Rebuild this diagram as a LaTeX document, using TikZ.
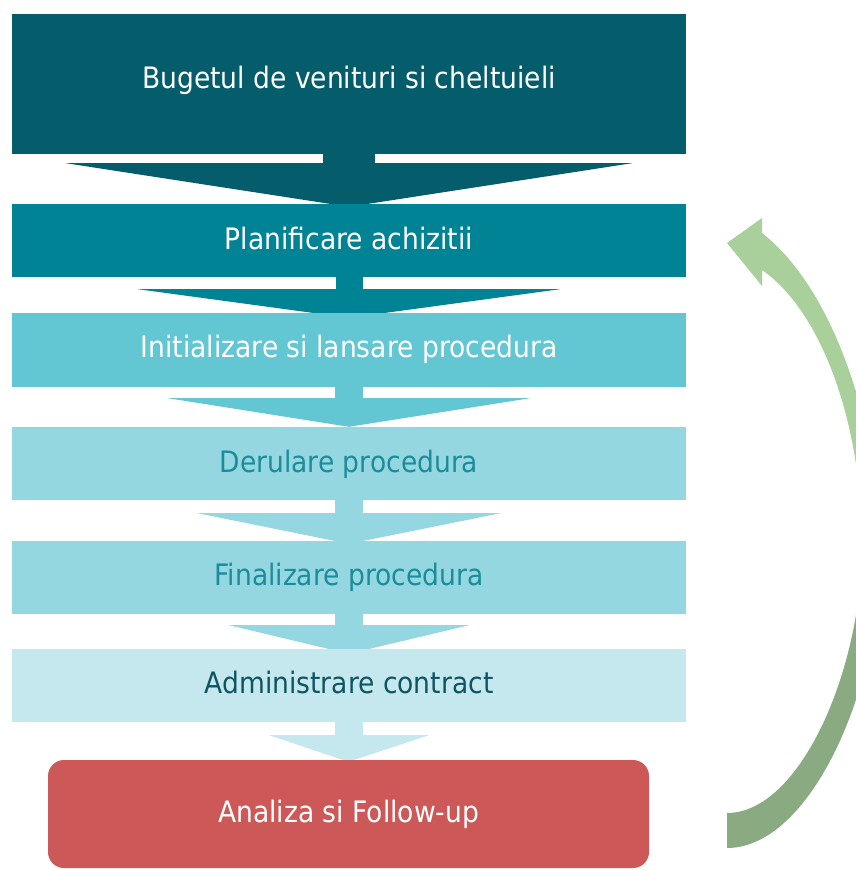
\documentclass[tikz,border=0pt]{standalone}
\usepackage{fontspec}
\setmainfont{DejaVu Sans}[FakeStretch=0.9]
\usetikzlibrary{calc}
\definecolor{cA}{HTML}{055C6A}
\definecolor{cB}{HTML}{008394}
\definecolor{cC}{HTML}{63C6D3}
\definecolor{cD}{HTML}{95D7E0}
\definecolor{cE}{HTML}{95D7E0}
\definecolor{cF}{HTML}{C5E8EE}
\definecolor{cRed}{HTML}{CD5858}
\definecolor{txtTeal}{HTML}{1A8C9B}
\definecolor{txtDark}{HTML}{0E5564}
\definecolor{gLight}{HTML}{A9CF9B}
\definecolor{gDark}{HTML}{8AAA82}
\pgfdeclareverticalshading{greenret}{100bp}{color(0bp)=(gDark); color(25bp)=(gDark); color(43bp)=(gDark); color(53bp)=(gLight); color(75bp)=(gLight); color(100bp)=(gLight)}
\pgfdeclarelayer{bg}
\pgfsetlayers{bg,main}
\tikzset{
  stagebox/.style={rectangle, inner sep=0pt, minimum width=674pt, draw=none},
  lbl/.style={anchor=base, inner sep=0pt, font=\fontsize{29.5}{34}\selectfont},
}
% #1 colour, #2 from node, #3 to node, #4 stem half width, #5 triangle half width,
% #6 triangle top offset below source, #7 tip offset below target top
\newcommand{\flowarr}[7]{%
  \begin{pgfonlayer}{bg}
  \fill[#1] ($(#2.south)+(-#4,-2)$) rectangle ($(#2.south)+(#4,#6+1)$);
  \fill[#1] ($(#2.south)+(-#5,#6)$) -- ($(#2.south)+(#5,#6)$) -- ($(#3.north)+(0,#7)$) -- cycle;
  \end{pgfonlayer}}
\begin{document}
\begin{tikzpicture}[x=1pt,y=-1pt]
\useasboundingbox (0,0) rectangle (856,870);
\begin{pgfonlayer}{bg}
\fill[white] (0,0) rectangle (856,870);
\end{pgfonlayer}

\node[stagebox, fill=cA, minimum height=140pt] (b1) at (349,84) {};
\node[stagebox, fill=cB, minimum height=73pt] (b2) at (349,240.5) {};
\node[stagebox, fill=cC, minimum height=74pt] (b3) at (349,350) {};
\node[stagebox, fill=cD, minimum height=73pt] (b4) at (349,463.5) {};
\node[stagebox, fill=cE, minimum height=73pt] (b5) at (349,577.5) {};
\node[stagebox, fill=cF, minimum height=73pt] (b6) at (349,685.5) {};
\node[rectangle, rounded corners=16pt, fill=cRed, inner sep=0pt, minimum width=601pt, minimum height=108pt] (b7) at (348.5,814) {};

\node[lbl, text=white] (t1) at (349,88) {Bugetul de venituri si cheltuieli};
\node[lbl, text=white] (t2) at (349,249) {Planificare achizitii};
\node[lbl, text=white] (t3) at (349,357) {Initializare si lansare procedura};
\node[lbl, text=txtTeal] (t4) at (349,472) {Derulare procedura};
\node[lbl, text=txtTeal] (t5) at (349,585) {Finalizare procedura};
\node[lbl, text=txtDark] (t6) at (349,693) {Administrare contract};
\node[lbl, text=white] (t7) at (348.5,822) {Analiza si Follow-up};

\flowarr{cA}{b1}{b2}{26}{283}{9}{3}
\flowarr{cB}{b2}{b3}{13.5}{211}{12}{5}
\flowarr{cC}{b3}{b4}{14}{181}{11}{0}
\flowarr{cD}{b4}{b5}{14}{151.5}{13}{3}
\flowarr{cE}{b5}{b6}{14}{120}{11}{5}
\flowarr{cF}{b6}{b7}{14}{80}{13}{2}

% curved return arrow
\coordinate (retTip) at (727,243);
\begin{scope}
\clip (0,0) rectangle (856,870);
\shade[shading=greenret]
  (762,233) .. controls (835,290) and (880,430) .. (880,555)
  .. controls (880,690) and (810,848) .. (727,848)
  -- (727,813)
  .. controls (800,813) and (862,670) .. (862,545)
  .. controls (862,420) and (820,310) .. (762,270)
  -- (762,286) -- (retTip) -- (762,218) -- cycle;
\end{scope}
\end{tikzpicture}
\end{document}
